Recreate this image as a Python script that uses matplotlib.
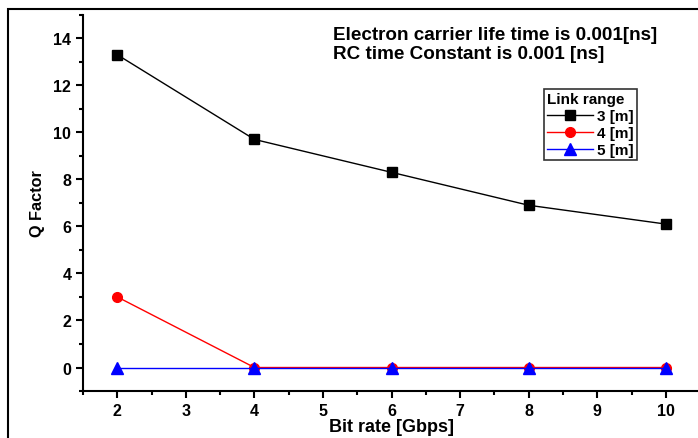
import matplotlib.pyplot as plt
from matplotlib.patches import Rectangle

plt.rcParams['font.family'] = ['Liberation Sans', 'DejaVu Sans']

# data
bit_rate = [2, 4, 6, 8, 10]
q_3m = [13.3, 9.7, 8.3, 6.9, 6.1]
q_4m = [3.0, 0, 0, 0, 0]
q_5m = [0, 0, 0, 0, 0]

fig = plt.figure(figsize=(6.98, 4.39), dpi=100)
ax = fig.add_axes([0.119, 0.107, 0.884, 0.857])

ax.plot(bit_rate, q_3m, color='black', marker='s', markersize=7, lw=1, label='3 [m]')
ax.plot(bit_rate, q_4m, color='red', marker='o', markersize=7, lw=1, label='4 [m]')
ax.plot(bit_rate, q_5m, color='blue', marker='^', markersize=8, lw=1, label='5 [m]')

ax.set_xlim(1.5, 10.5)
ax.set_ylim(-1, 15)
ax.set_xticks(range(2, 11))
ax.set_xticks([x + 0.5 for x in range(1, 11)], minor=True)
ax.set_yticks(range(0, 15, 2))
ax.set_yticks(range(-1, 16, 2), minor=True)

for s in ['top', 'right']:
    ax.spines[s].set_visible(False)
for s in ['left', 'bottom']:
    ax.spines[s].set_linewidth(1.5)
ax.tick_params(which='major', direction='out', length=5, width=1.5, labelsize=11.5)
ax.tick_params(which='minor', direction='out', length=3, width=1.5)
for lab in ax.get_xticklabels() + ax.get_yticklabels():
    lab.set_fontweight('bold')

ax.set_xlabel('Bit rate [Gbps]', fontsize=13, fontweight='bold', labelpad=0)
ax.set_ylabel('Q Factor', fontsize=11.7, fontweight='bold', labelpad=6)

ax.text(0.405, 0.97, 'Electron carrier life time is 0.001[ns]\nRC time Constant is 0.001 [ns]',
        transform=ax.transAxes, fontsize=13.6, fontweight='bold', va='top', ha='left',
        linespacing=1.15)

leg = ax.legend(title='Link range', loc='upper left', bbox_to_anchor=(0.747, 0.803),
                frameon=True, fancybox=False, edgecolor='black',
                prop={'weight': 'bold', 'size': 11}, handlelength=3.0,
                borderpad=0.2, labelspacing=0.2, handletextpad=0.3, borderaxespad=0)
leg.get_frame().set_linewidth(1.2)
leg.get_title().set_fontweight('bold')
leg.get_title().set_fontsize(11)
leg._legend_box.align = 'left'

# outer frame around the figure
fig.patches.append(Rectangle((8 / 698, -0.05), 1.1, 0.05 + 1 - 10 / 439,
                             transform=fig.transFigure, fill=False,
                             edgecolor='black', lw=1.5))

fig.savefig('out.png', dpi=100)
